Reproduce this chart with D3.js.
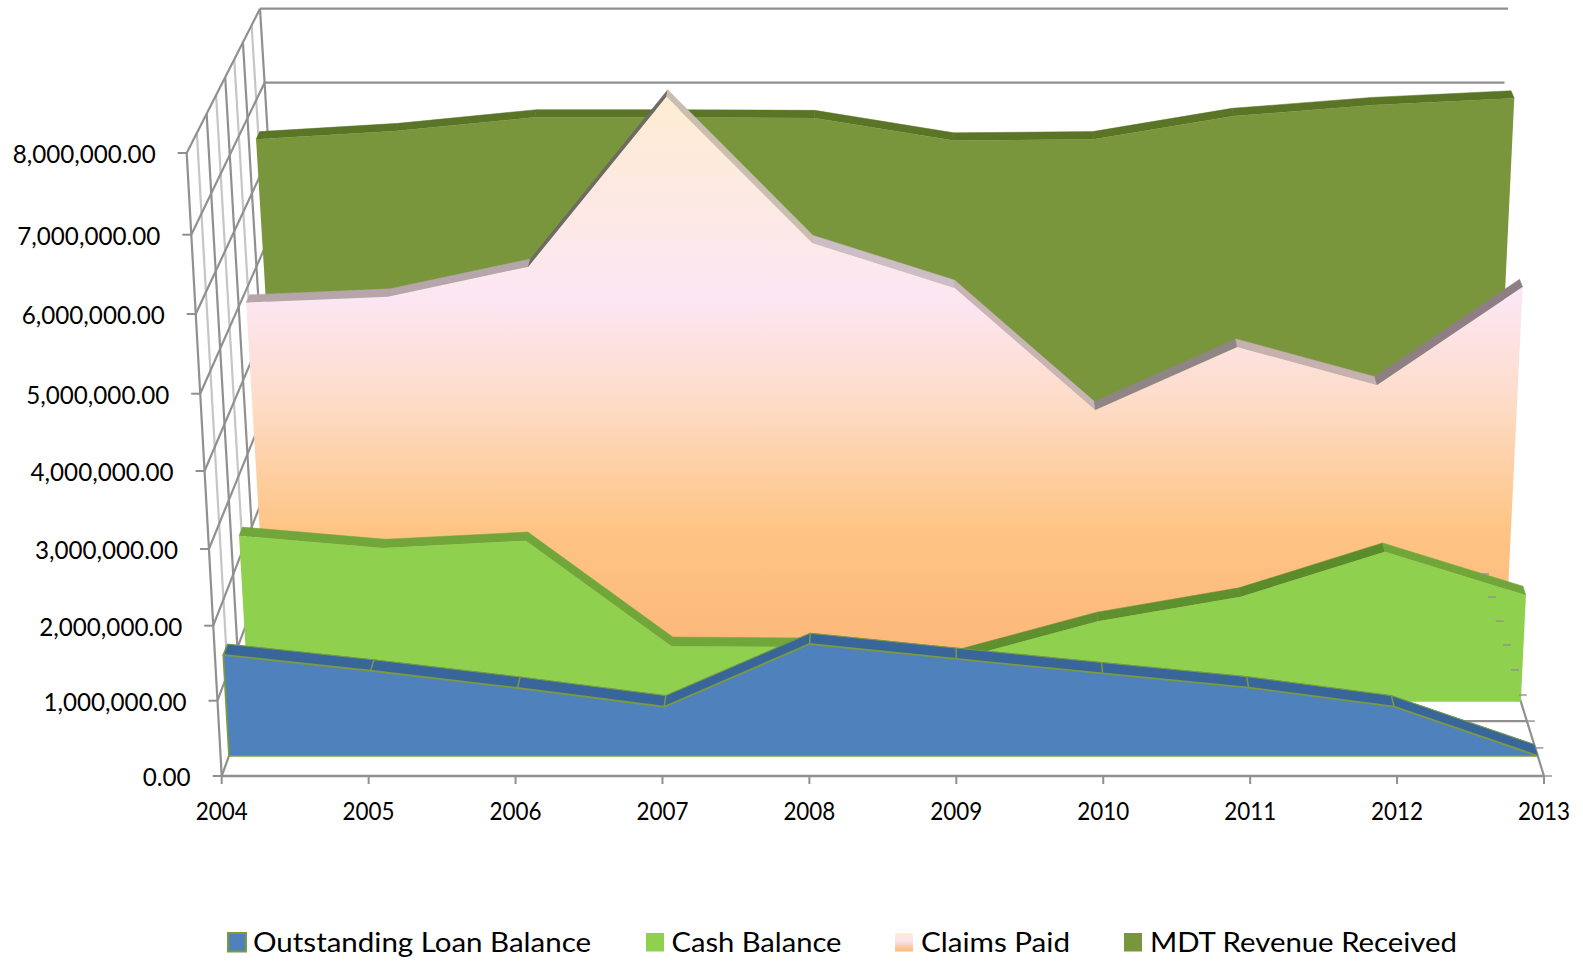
<!DOCTYPE html>
<html>
<head>
<meta charset="utf-8">
<script src="https://cdnjs.cloudflare.com/ajax/libs/d3/7.8.5/d3.min.js"></script>
<style>
html,body{margin:0;padding:0;background:#fff;overflow:hidden}
svg{display:block}
text{font-family:Lato,"Open Sans",sans-serif;fill:#000}
</style>
</head>
<body>
<svg id="chart" width="1583" height="961"></svg>
<script>
// ---- data ----
const years = [2004,2005,2006,2007,2008,2009,2010,2011,2012,2013];
const yTickValues = [0,1000000,2000000,3000000,4000000,5000000,6000000,7000000,8000000];
const loanBalance = [1353000,1141000,909000,658000,1500000,1300000,1105000,914000,658000,0];
const cashBalance = [2280000,2114000,2213000,764000,750000,580000,1108000,1445000,2064000,1467000];
const claimsPaid  = [4847000,4929000,5332000,7575000,5650000,5047000,3379000,4241000,3721000,5060000];
const mdtRevenue  = [6536000,6647000,6831000,6831000,6822000,6520000,6536000,6849000,6996000,7085000];
const seriesNames = ["Outstanding Loan Balance","Cash Balance","Claims Paid","MDT Revenue Received"];

// ---- 3D frame (pixel calibration of the oblique projection) ----
const frontYs = [776,700.7,625.7,549,471,393.7,314,234.7,153];
const backYs  = [574,506,437.5,368.5,298.5,228,156.5,82.7,8.7];
const depthFractions = [0,.139,.272,.401,.525,.649,.767,.886,1];

const yFront = d3.scaleLinear().domain(yTickValues).range(frontYs);
const yBack  = d3.scaleLinear().domain(yTickValues).range(backYs);
const depth  = d3.scaleLinear().domain(d3.range(9)).range(depthFractions);
const lift   = d3.scaleLinear().domain([776,153]).range([0,1]);
const leftFront  = d3.scaleLinear().domain([0,1]).range([221.7,186.7]);
const leftBack   = d3.scaleLinear().domain([0,1]).range([295,260]);
const rightFront = d3.scaleLinear().domain([0,1]).range([1544,1574]);
const rightBack  = d3.scaleLinear().domain([0,1]).range([1481,1508]);
const col = d3.scaleLinear().domain([0,years.length-1]).range([0,1]);

function project(i, v, t){
  const f = depth(t), fy = yFront(v), g = lift(fy);
  const l = d3.interpolateNumber(leftFront(g), leftBack(g))(f);
  const r = d3.interpolateNumber(rightFront(g), rightBack(g))(f);
  return [l + (r-l)*col(i), d3.interpolateNumber(fy, yBack(v))(f)];
}

const svg = d3.select("#chart");
const line = d3.line();
const AXIS = "#909090", LIGHT = "#c6c6c6";

// gradient for Claims Paid
const defs = svg.append("defs");
const claimStops = [[96,"#feecd2"],[200,"#fde9e3"],[300,"#fce6f3"],[400,"#fddcc8"],[530,"#fec484"],[650,"#fcb87b"]];
const gr = defs.append("linearGradient").attr("id","claims").attr("gradientUnits","userSpaceOnUse")
  .attr("x1",0).attr("x2",0).attr("y1",96).attr("y2",650);
claimStops.forEach(s=>gr.append("stop").attr("offset",(s[0]-96)/554).attr("stop-color",s[1]));
const gl = defs.append("linearGradient").attr("id","claimsLegend").attr("x1",0).attr("x2",0).attr("y1",0).attr("y2",1);
[[0,"#feecd2"],[.4,"#fbe4f1"],[1,"#fdb973"]].forEach(s=>gl.append("stop").attr("offset",s[0]).attr("stop-color",s[1]));

// ---- walls ----
const walls = svg.append("g").attr("fill","none");
d3.range(9).forEach(t=>{
  walls.append("path").attr("d",line(yTickValues.map(v=>project(0,v,t))))
    .attr("stroke",t%2?LIGHT:AXIS).attr("stroke-width",2.2);
});
yTickValues.forEach(v=>{
  walls.append("path").attr("d",line([project(0,v,0),project(0,v,8)])).attr("stroke",AXIS).attr("stroke-width",2.2);
  walls.append("path").attr("d",line([project(0,v,8),project(years.length-1,v,8)])).attr("stroke",AXIS).attr("stroke-width",2.2);
});
// floor lines
[2,4,6,8].forEach(t=>{
  walls.append("path").attr("d",line([project(0,0,t),project(years.length-1,0,t)])).attr("stroke",AXIS).attr("stroke-width",2.2);
});
// right-hand depth edge and front axis
walls.append("path").attr("d",line([project(years.length-1,0,0),project(years.length-1,0,8)])).attr("stroke",AXIS).attr("stroke-width",2.2);
walls.append("path").attr("d",line([project(0,0,0),project(years.length-1,0,0)])).attr("stroke",AXIS).attr("stroke-width",2.4);

// ---- series, back to front ----
const series = [
 {values:mdtRevenue, t0:6.74, t1:7.167, face:"#7a963c",
  band:Array(9).fill("#5a7526")},
 {values:claimsPaid, t0:4.742, t1:5.127, face:"url(#claims)",
  band:["#b6a6ab","#b6a6ab","#6f6a63","#c9bfb0","#cdbdc6","#c8b4b4","#8f8585","#c6b0b0","#8f7f85"]},
 {values:cashBalance, t0:2.744, t1:3.11, face:"#8fd14f",
  band:["#70a63a","#70a63a","#70a63a","#70a63a","#70a63a","#5f9030","#5f9030","#5a8c2c","#70a63a"]},
 {values:loanBalance, t0:.72, t1:1.13, face:"#4f81bd", stroke:"#7a9a40",
  band:Array(9).fill("#38659a")}
];
series.forEach(s=>{
  const g = svg.append("g");
  const n = s.values.length;
  d3.range(n-1).forEach(i=>{
    g.append("path").attr("d",line([
      project(i,s.values[i],s.t0),project(i+1,s.values[i+1],s.t0),
      project(i+1,s.values[i+1],s.t1),project(i,s.values[i],s.t1)])+"Z")
     .attr("fill",s.band[i]).attr("stroke",s.band[i]).attr("stroke-width",.5);
  });
  if(s.stroke){
    d3.range(n-1).forEach(i=>{
      g.append("path").attr("d",line([project(i,s.values[i],s.t0),project(i,s.values[i],s.t1)]))
        .attr("stroke",s.stroke).attr("stroke-width",1.5).attr("fill","none");
    });
    g.append("path").attr("d",line(d3.range(n).map(i=>project(i,s.values[i],s.t1))))
        .attr("stroke",s.stroke).attr("stroke-width",1).attr("fill","none");
  }
  const pts = d3.range(n).map(i=>project(i,s.values[i],s.t0));
  pts.push(project(n-1,0,s.t0),project(0,0,s.t0));
  g.append("path").attr("d",line(pts)+"Z").attr("fill",s.face)
    .attr("stroke",s.stroke||"none").attr("stroke-width",s.stroke?1.8:0);
});

// ---- ticks ----
const ticks = svg.append("g").attr("stroke",AXIS).attr("stroke-width",2);
years.forEach((y,i)=>{
  const p = project(i,0,0);
  ticks.append("line").attr("x1",p[0]).attr("x2",p[0]).attr("y1",p[1]).attr("y2",p[1]+8);
});
yTickValues.forEach(v=>{
  const p = project(0,v,0);
  ticks.append("line").attr("x1",p[0]-9).attr("x2",p[0]).attr("y1",p[1]).attr("y2",p[1]);
});
d3.range(9).forEach(t=>{
  const p = project(years.length-1,0,t);
  ticks.append("line").attr("x1",p[0]).attr("x2",p[0]+8).attr("y1",p[1]).attr("y2",p[1]).attr("stroke-width",1.4);
});

// ---- labels ----
const fmt = d3.format(",.2f");
yTickValues.forEach(v=>{
  const p = project(0,v,0), s = fmt(v);
  svg.append("text").attr("x",p[0]-31).attr("y",p[1]+10).attr("text-anchor","end")
    .attr("font-size",25).attr("textLength",v?143:48).attr("lengthAdjust","spacingAndGlyphs").text(s);
});
years.forEach((y,i)=>{
  const p = project(i,0,0);
  svg.append("text").attr("x",p[0]).attr("y",819.5).attr("text-anchor","middle")
    .attr("font-size",25).attr("textLength",52).attr("lengthAdjust","spacingAndGlyphs").text(y);
});

// ---- legend ----
const legendLayout = [
 {mx:228,tx:253,w:338,fill:"#4f81bd",stroke:"#7a9a40"},
 {mx:646,tx:671.5,w:170,fill:"#8fd14f"},
 {mx:895,tx:921,w:149,fill:"url(#claimsLegend)"},
 {mx:1124,tx:1150,w:307,fill:"#7a963c"}
];
seriesNames.forEach((name,i)=>{
  const l = legendLayout[i];
  svg.append("rect").attr("x",l.mx).attr("y",933).attr("width",18).attr("height",18.5)
    .attr("fill",l.fill).attr("stroke",l.stroke||"none").attr("stroke-width",l.stroke?2:0);
  svg.append("text").attr("x",l.tx).attr("y",951.5).attr("font-size",26)
    .attr("textLength",l.w).attr("lengthAdjust","spacingAndGlyphs").text(name);
});
</script>
</body>
</html>
